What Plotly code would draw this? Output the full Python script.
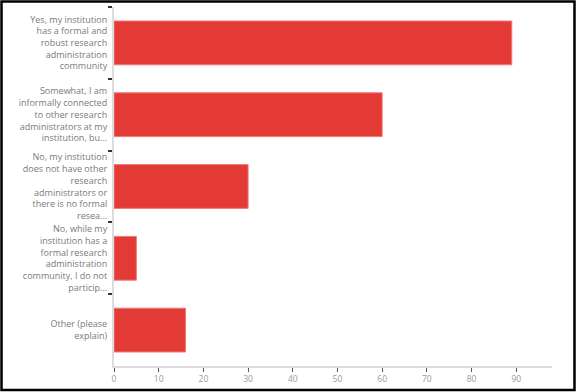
import plotly.graph_objects as go

categories = [
    "Yes, my institution<br>has a formal and<br>robust research<br>administration<br>community",
    "Somewhat, I am<br>informally connected<br>to other research<br>administrators at my<br>institution, bu...",
    "No, my institution<br>does not have other<br>research<br>administrators or<br>there is no formal<br>resea...",
    "No, while my<br>institution has a<br>formal research<br>administration<br>community, I do not<br>particip...",
    "Other (please<br>explain)",
]
values = [89, 60, 30, 5, 16]
x_ticks = [0, 10, 20, 30, 40, 50, 60, 70, 80, 90]

W, H = 576, 392
ml, mr, mt, mb = 114, 24, 7, 26

fig = go.Figure(go.Bar(
    x=values, y=categories, orientation="h",
    marker=dict(color="#E43A36", line=dict(color="#F07A76", width=1)),
    width=0.61,
))

fig.update_layout(
    width=W, height=H,
    margin=dict(l=ml, r=mr, t=mt, b=mb, autoexpand=False),
    paper_bgcolor="white", plot_bgcolor="white",
    showlegend=False,
    font=dict(family="Open Sans", color="#7a7a7a", size=9),
    bargap=0.39,
)
fig.update_xaxes(
    range=[0, 98], tickvals=x_ticks, showgrid=False, zeroline=False,
    showline=True, linecolor="#dcdcdc", linewidth=2,
    ticks="outside", ticklen=4, tickcolor="#555", tickwidth=1,
    tickfont=dict(size=8.5, color="#999"), automargin=False,
)
fig.update_yaxes(
    type="category", autorange="reversed", tickson="boundaries",
    showgrid=False, zeroline=False,
    showline=True, linecolor="#dcdcdc", linewidth=2,
    ticks="outside", ticklen=4, tickcolor="#333", tickwidth=1.5,
    ticklabelstandoff=3,
    tickfont=dict(size=9, color="#7a7a7a"), automargin=False,
)

# black frame around the whole image (paper coordinates)
pw = W - ml - mr
ph = H - mt - mb
x0 = -ml / pw
x1 = 1 + mr / pw
y0 = -mb / ph
y1 = 1 + mt / ph
fig.add_shape(type="rect", xref="paper", yref="paper",
              x0=x0 + 1.5 / pw, x1=x1 - 1.5 / pw, y0=y0 + 2 / ph, y1=y1 - 1.5 / ph,
              line=dict(color="black", width=2.5), fillcolor="rgba(0,0,0,0)")

fig.write_html("out.html", config={"displayModeBar": False},
               post_script="document.body.style.margin='0px';document.body.style.overflow='hidden';")
